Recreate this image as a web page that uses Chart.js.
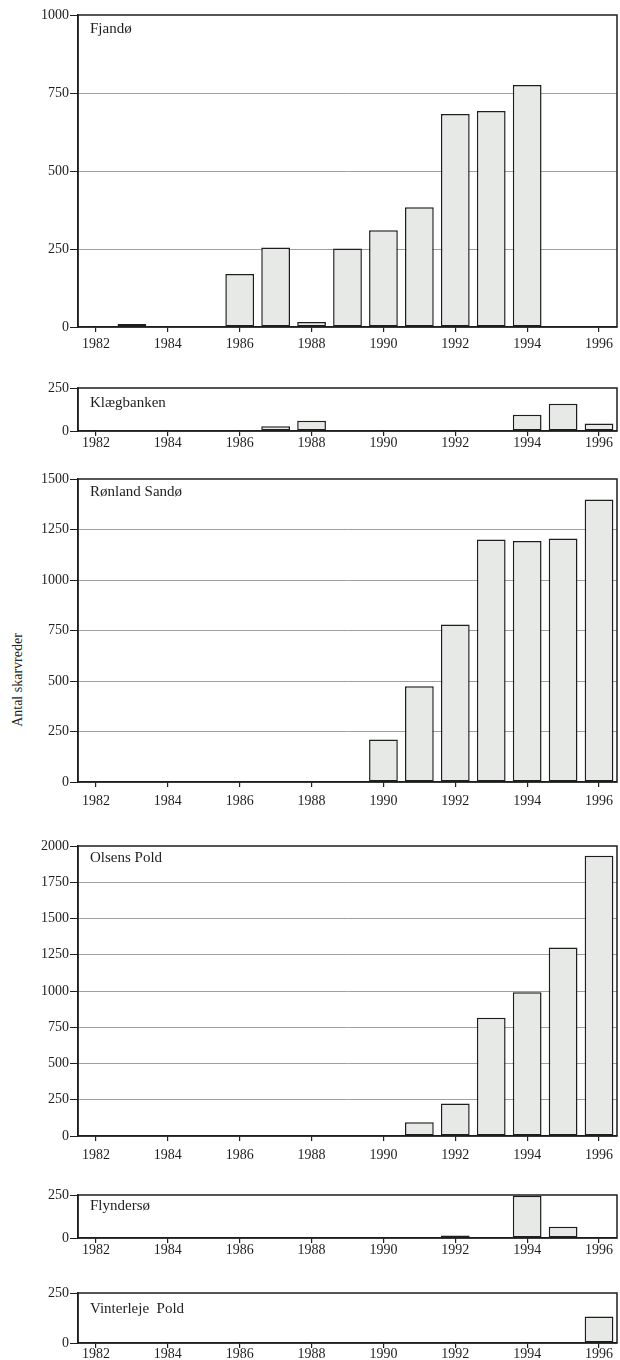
<!DOCTYPE html>
<html>
<head>
<meta charset="utf-8">
<script src="https://cdn.jsdelivr.net/npm/chart.js@4.4.0/dist/chart.umd.min.js"></script>
<style>
  body { margin: 0; background: #fff; width: 620px; height: 1360px; position: relative; overflow: hidden; font-family: "Liberation Serif", serif; }
  .panel { position: absolute; left: 0; width: 620px; }
  #ytitle { position: absolute; left: 18px; top: 680px; transform: translate(-50%, -50%) rotate(-90deg); font-size: 14px; white-space: nowrap; color: #222; }
</style>
</head>
<body>
<div id="ytitle">Antal skarvreder</div>
<script>
// Breeding colonies of cormorants, nests per year
const years = ['1982', '1983', '1984', '1985', '1986', '1987', '1988', '1989', '1990', '1991', '1992', '1993', '1994', '1995', '1996'];

const fjando      = [null, 10, null, null, 170, 255, 16, 252, 310, 384, 683, 692, 776, null, null];
const klaegbanken = [null, null, null, null, null, 27, 60, null, null, null, null, null, 95, 159, 43];
const ronland     = [null, null, null, null, null, null, null, null, 211, 474, 780, 1201, 1193, 1206, 1398];
const olsens      = [null, null, null, null, null, null, null, null, null, 94, 225, 815, 992, 1300, 1933];
const flyndersoe  = [null, null, null, null, null, null, null, null, null, null, 14, null, 246, 66, null];
const vinterleje  = [null, null, null, null, null, null, null, null, null, null, null, null, null, null, 132];

const titles = ['Fjandø', 'Klægbanken', 'Rønland Sandø', 'Olsens Pold', 'Flyndersø', 'Vinterleje  Pold'];
const yMax = [1000, 250, 1500, 2000, 250, 250];
const series = [fjando, klaegbanken, ronland, olsens, flyndersoe, vinterleje];

// layout only: where each plot area sits on the page
const layout = [
  { top: 15,   bottom: 327,  labelPad: 4,  titleDy: 14 },
  { top: 388,  bottom: 431,  labelPad: -1, titleDy: 15 },
  { top: 479,  bottom: 782,  labelPad: 6,  titleDy: 13 },
  { top: 846,  bottom: 1136, labelPad: 6,  titleDy: 12 },
  { top: 1195, bottom: 1238, labelPad: -1, titleDy: 11 },
  { top: 1293, bottom: 1343, labelPad: -2, titleDy: 16 }
];

const INK = '#1e1e1e';
const FONT = { family: '"Liberation Serif", serif', size: 14 };

const framePlugin = {
  id: 'frame',
  afterDraw(chart, args, opts) {
    const { ctx, chartArea: a } = chart;
    ctx.save();
    ctx.strokeStyle = INK;
    ctx.lineWidth = 1.5;
    ctx.strokeRect(a.left, a.top, a.right - a.left, a.bottom - a.top);
    ctx.fillStyle = INK;
    ctx.font = '15px "Liberation Serif", serif';
    ctx.textBaseline = 'middle';
    ctx.fillText(opts.title, a.left + 12, a.top + opts.dy);
    ctx.restore();
  }
};

series.forEach((values, i) => {
  const L = layout[i];
  const div = document.createElement('div');
  div.className = 'panel';
  div.style.top = (L.top - 10) + 'px';
  div.style.height = (L.bottom - L.top + 40) + 'px';
  const canvas = document.createElement('canvas');
  div.appendChild(canvas);
  document.body.appendChild(div);

  const max = yMax[i];
  new Chart(canvas, {
    type: 'bar',
    data: {
      labels: years,
      datasets: [{
        data: values,
        backgroundColor: '#e6e9e6',
        borderColor: INK,
        borderWidth: 1.5,
        borderSkipped: false,
        barPercentage: 0.8,
        categoryPercentage: 1
      }]
    },
    options: {
      responsive: true,
      maintainAspectRatio: false,
      animation: false,
      layout: { padding: { top: 10, right: 3, left: 0, bottom: 0 } },
      plugins: {
        legend: { display: false },
        tooltip: { enabled: false },
        frame: { title: titles[i], dy: L.titleDy }
      },
      scales: {
        x: {
          offset: true,
          afterFit(scale) { scale.height = 30; },
          grid: { offset: false, drawOnChartArea: false, drawTicks: true, tickLength: 5, color: INK, lineWidth: 1.2 },
          border: { color: INK, width: 1.5 },
          ticks: {
            autoSkip: false,
            maxRotation: 0,
            padding: L.labelPad,
            color: INK,
            font: FONT,
            callback: function (v, idx) { return idx % 2 === 0 ? this.getLabelForValue(v) : null; }
          }
        },
        y: {
          min: 0,
          max: max,
          afterFit(scale) { scale.width = 78; },
          grid: {
            color: (c) => (c.tick && (c.tick.value === 0 || c.tick.value === max)) ? 'rgba(0,0,0,0)' : '#a0a0a0',
            tickColor: INK,
            tickLength: 8,
            lineWidth: 1
          },
          border: { color: INK, width: 1.5 },
          ticks: { stepSize: 250, padding: 1, color: INK, font: FONT, callback: (v) => String(v) }
        }
      }
    },
    plugins: [framePlugin]
  });
});
</script>
</body>
</html>
